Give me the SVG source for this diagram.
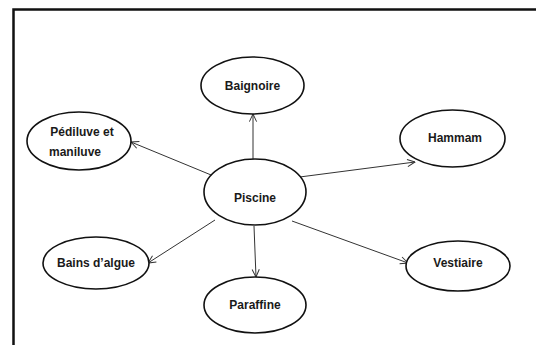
<svg xmlns="http://www.w3.org/2000/svg" width="536" height="345" viewBox="0 0 536 345">
<style>
.node ellipse{fill:#fff;stroke:#111;stroke-width:1.6}
.node text{font-family:"Liberation Sans",Arial,sans-serif;font-weight:bold;font-size:12px;fill:#1a1a1a;text-anchor:middle}
.edge{stroke:#333;stroke-width:1;fill:none;marker-end:url(#arr)}
</style>
<defs>
<marker id="arr" viewBox="0 0 10 10" refX="9.5" refY="5" markerWidth="9" markerHeight="9" markerUnits="userSpaceOnUse" orient="auto">
<path d="M1,1 L9.5,5 L1,9" fill="none" stroke="#333" stroke-width="1.1"/>
</marker>
</defs>
<rect width="536" height="345" fill="#fff"/>
<path d="M13.5,345 V9.5 H536" fill="none" stroke="#111" stroke-width="2.5"/>
<g id="connectors">
<line class="edge" x1="253" y1="159" x2="253" y2="114"/>
<line class="edge" x1="216" y1="177" x2="131" y2="142"/>
<line class="edge" x1="292" y1="178" x2="415" y2="162"/>
<line class="edge" x1="215" y1="220" x2="148" y2="263"/>
<line class="edge" x1="254" y1="226" x2="256" y2="277"/>
<line class="edge" x1="292" y1="221" x2="408" y2="263"/>
</g>
<g id="baignoire" class="node"><ellipse cx="252.5" cy="85.5" rx="51.5" ry="28.5"/><text x="252.5" y="90">Baignoire</text></g>
<g id="pediluve" class="node"><ellipse cx="79" cy="141" rx="52" ry="29"/><text x="82" y="136">Pédiluve et</text><text x="75" y="156">maniluve</text></g>
<g id="hammam" class="node"><ellipse cx="452.5" cy="138.5" rx="52.5" ry="28.5"/><text x="455" y="142">Hammam</text></g>
<g id="piscine" class="node"><ellipse cx="255" cy="192" rx="51" ry="33"/><text x="255" y="202">Piscine</text></g>
<g id="bains" class="node"><ellipse cx="96" cy="263" rx="53" ry="26"/><text x="96" y="267">Bains d’algue</text></g>
<g id="paraffine" class="node"><ellipse cx="255" cy="305" rx="51" ry="28"/><text x="255" y="309">Paraffine</text></g>
<g id="vestiaire" class="node"><ellipse cx="458" cy="266" rx="52" ry="25"/><text x="458" y="267">Vestiaire</text></g>
</svg>
